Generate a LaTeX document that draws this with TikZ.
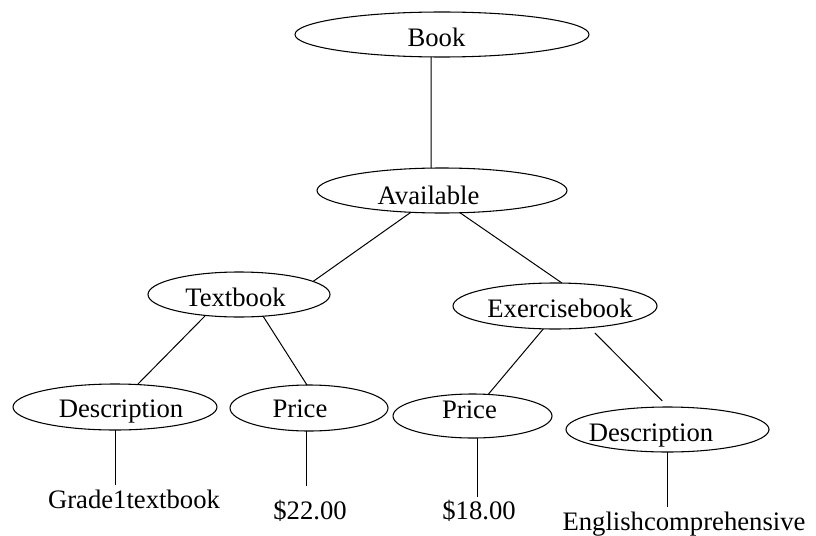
\documentclass[tikz,border=0pt]{standalone}
\usepackage{fontspec}
\setmainfont{Liberation Serif}
\usetikzlibrary{shapes.geometric}
\begin{document}
\begin{tikzpicture}[x=0.75pt,y=-0.75pt,
  oval/.style={draw,ellipse,inner sep=0pt,outer sep=0pt,line width=0.8pt},
  word/.style={inner sep=0pt,anchor=base,font=\fontsize{20}{24}\selectfont},
  edge/.style={line width=0.75pt}]
\useasboundingbox (0,0) rectangle (816,535);

% ellipses of the tree
\node[oval,minimum width=220.5pt,minimum height=33.75pt] (book)  at (442,34.5)    {};
\node[oval,minimum width=187.5pt,minimum height=33.75pt] (avail) at (442,190.5)   {};
\node[oval,minimum width=136.5pt,minimum height=33.75pt] (tb)    at (239,294.5)   {};
\node[oval,minimum width=153pt,  minimum height=34.5pt]  (eb)    at (555,306)     {};
\node[oval,minimum width=153pt,  minimum height=34.5pt]  (d1)    at (115,407)     {};
\node[oval,minimum width=118.5pt,minimum height=34.5pt]  (p1)    at (309,408)     {};
\node[oval,minimum width=119.25pt,minimum height=33pt]   (p2)    at (472.5,416)   {};
\node[oval,minimum width=152.25pt,minimum height=33.75pt] (d2)   at (667.5,429.5) {};

% words inside the ellipses
\node[word] (book-t)  at (436.5,46) {Book};
\node[word] (avail-t) at (428.5,204) {Available};
\node[word] (tb-t)    at (235.5,306) {Textbook};
\node[word] (eb-t)    at (560,317) {Exercisebook};
\node[word] (d1-t)    at (121,417) {Description};
\node[word] (p1-t)    at (300,417) {Price};
\node[word] (p2-t)    at (469.5,418) {Price};
\node[word] (d2-t)    at (651,441) {Description};

% leaf values
\node[word] (g1) at (134,508) {Grade1textbook};
\node[word] (v22) at (310,519) {\$22.00};
\node[word] (v18) at (479,519) {\$18.00};
\node[word] (ec) at (684,530) {Englishcomprehensive};

% branches
\draw[edge] (book.-116.1) -- (avail.116.1);
\draw[edge] (avail.-145.8) -- (tb.10);
\draw[edge] (avail.-51.05) -- (eb.73);
\draw[edge] (tb.-148.5) -- (d1.45.6);
\draw[edge] (tb.-42.1) -- (p1.95);
\draw[edge] (eb.-117.7) -- (p2.54.3);
\draw[edge,shorten <=5.6pt,shorten >=6.4pt] (eb.-32.8) -- (d2.88.7);

% stems down to the values
\draw[edge,shorten >=2.85pt] (d1.south) -- (d1.south |- g1.north);
\draw[edge,shorten >=9.75pt] (p1.-95) -- (p1.-95 |- v22.north);
\draw[edge,shorten >=1.5pt] (p2.-78.4) -- (p2.-78.4 |- v18.north);
\draw[edge,shorten >=2.85pt] (d2.south) -- (d2.south |- ec.north);
\end{tikzpicture}
\end{document}
